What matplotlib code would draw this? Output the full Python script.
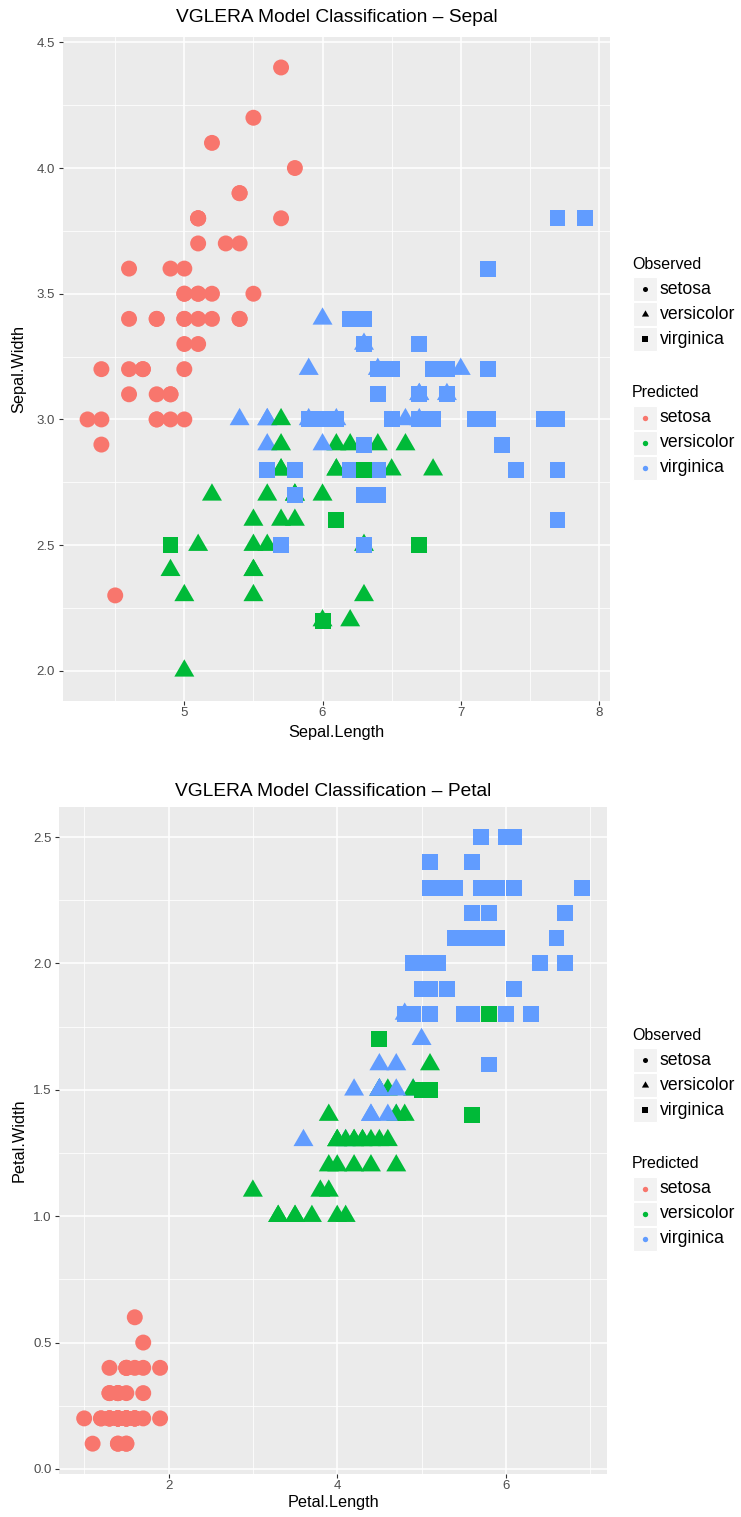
import matplotlib
matplotlib.use('Agg')
import matplotlib.pyplot as plt
from matplotlib.patches import Rectangle
import numpy as np

plt.rcParams['font.family'] = ['Liberation Sans', 'DejaVu Sans']

# iris measurements, in data order: setosa, versicolor, virginica
sepal_length = np.array([
    5.1, 4.9, 4.7, 4.6, 5.0, 5.4, 4.6, 5.0, 4.4, 4.9, 5.4, 4.8, 4.8, 4.3, 5.8, 5.7, 5.4, 5.1, 5.7, 5.1,
    5.4, 5.1, 4.6, 5.1, 4.8, 5.0, 5.0, 5.2, 5.2, 4.7, 4.8, 5.4, 5.2, 5.5, 4.9, 5.0, 5.5, 4.9, 4.4, 5.1,
    5.0, 4.5, 4.4, 5.0, 5.1, 4.8, 5.1, 4.6, 5.3, 5.0,
    7.0, 6.4, 6.9, 5.5, 6.5, 5.7, 6.3, 4.9, 6.6, 5.2, 5.0, 5.9, 6.0, 6.1, 5.6, 6.7, 5.6, 5.8, 6.2, 5.6,
    5.9, 6.1, 6.3, 6.1, 6.4, 6.6, 6.8, 6.7, 6.0, 5.7, 5.5, 5.5, 5.8, 6.0, 5.4, 6.0, 6.7, 6.3, 5.6, 5.5,
    5.5, 6.1, 5.8, 5.0, 5.6, 5.7, 5.7, 6.2, 5.1, 5.7,
    6.3, 5.8, 7.1, 6.3, 6.5, 7.6, 4.9, 7.3, 6.7, 7.2, 6.5, 6.4, 6.8, 5.7, 5.8, 6.4, 6.5, 7.7, 7.7, 6.0,
    6.9, 5.6, 7.7, 6.3, 6.7, 7.2, 6.2, 6.1, 6.4, 7.2, 7.4, 7.9, 6.4, 6.3, 6.1, 7.7, 6.3, 6.4, 6.0, 6.9,
    6.7, 6.9, 5.8, 6.8, 6.7, 6.7, 6.3, 6.5, 6.2, 5.9])
sepal_width = np.array([
    3.5, 3.0, 3.2, 3.1, 3.6, 3.9, 3.4, 3.4, 2.9, 3.1, 3.7, 3.4, 3.0, 3.0, 4.0, 4.4, 3.9, 3.5, 3.8, 3.8,
    3.4, 3.7, 3.6, 3.3, 3.4, 3.0, 3.4, 3.5, 3.4, 3.2, 3.1, 3.4, 4.1, 4.2, 3.1, 3.2, 3.5, 3.6, 3.0, 3.4,
    3.5, 2.3, 3.2, 3.5, 3.8, 3.0, 3.8, 3.2, 3.7, 3.3,
    3.2, 3.2, 3.1, 2.3, 2.8, 2.8, 3.3, 2.4, 2.9, 2.7, 2.0, 3.0, 2.2, 2.9, 2.9, 3.1, 3.0, 2.7, 2.2, 2.5,
    3.2, 2.8, 2.5, 2.8, 2.9, 3.0, 2.8, 3.0, 2.9, 2.6, 2.4, 2.4, 2.7, 2.7, 3.0, 3.4, 3.1, 2.3, 3.0, 2.5,
    2.6, 3.0, 2.6, 2.3, 2.7, 3.0, 2.9, 2.9, 2.5, 2.8,
    3.3, 2.7, 3.0, 2.9, 3.0, 3.0, 2.5, 2.9, 2.5, 3.6, 3.2, 2.7, 3.0, 2.5, 2.8, 3.2, 3.0, 3.8, 2.6, 2.2,
    3.2, 2.8, 2.8, 2.7, 3.3, 3.2, 2.8, 3.0, 2.8, 3.0, 2.8, 3.8, 2.8, 2.8, 2.6, 3.0, 3.4, 3.1, 3.0, 3.1,
    3.1, 3.1, 2.7, 3.2, 3.3, 3.0, 2.5, 3.0, 3.4, 3.0])
petal_length = np.array([
    1.4, 1.4, 1.3, 1.5, 1.4, 1.7, 1.4, 1.5, 1.4, 1.5, 1.5, 1.6, 1.4, 1.1, 1.2, 1.5, 1.3, 1.4, 1.7, 1.5,
    1.7, 1.5, 1.0, 1.7, 1.9, 1.6, 1.6, 1.5, 1.4, 1.6, 1.6, 1.5, 1.5, 1.4, 1.5, 1.2, 1.3, 1.4, 1.3, 1.5,
    1.3, 1.3, 1.3, 1.6, 1.9, 1.4, 1.6, 1.4, 1.5, 1.4,
    4.7, 4.5, 4.9, 4.0, 4.6, 4.5, 4.7, 3.3, 4.6, 3.9, 3.5, 4.2, 4.0, 4.7, 3.6, 4.4, 4.5, 4.1, 4.5, 3.9,
    4.8, 4.0, 4.9, 4.7, 4.3, 4.4, 4.8, 5.0, 4.5, 3.5, 3.8, 3.7, 3.9, 5.1, 4.5, 4.5, 4.7, 4.4, 4.1, 4.0,
    4.4, 4.6, 4.0, 3.3, 4.2, 4.2, 4.2, 4.3, 3.0, 4.1,
    6.0, 5.1, 5.9, 5.6, 5.8, 6.6, 4.5, 6.3, 5.8, 6.1, 5.1, 5.3, 5.5, 5.0, 5.1, 5.3, 5.5, 6.7, 6.9, 5.0,
    5.7, 4.9, 6.7, 4.9, 5.7, 6.0, 4.8, 4.9, 5.6, 5.8, 6.1, 6.4, 5.6, 5.1, 5.6, 6.1, 5.6, 5.5, 4.8, 5.4,
    5.6, 5.1, 5.1, 5.9, 5.7, 5.2, 5.0, 5.2, 5.4, 5.1])
petal_width = np.array([
    0.2, 0.2, 0.2, 0.2, 0.2, 0.4, 0.3, 0.2, 0.2, 0.1, 0.2, 0.2, 0.1, 0.1, 0.2, 0.4, 0.4, 0.3, 0.3, 0.3,
    0.2, 0.4, 0.2, 0.5, 0.2, 0.2, 0.4, 0.2, 0.2, 0.2, 0.2, 0.4, 0.1, 0.2, 0.2, 0.2, 0.2, 0.1, 0.2, 0.2,
    0.3, 0.3, 0.2, 0.6, 0.4, 0.3, 0.2, 0.2, 0.2, 0.2,
    1.4, 1.5, 1.5, 1.3, 1.5, 1.3, 1.6, 1.0, 1.3, 1.4, 1.0, 1.5, 1.0, 1.4, 1.3, 1.4, 1.5, 1.0, 1.5, 1.1,
    1.8, 1.3, 1.5, 1.2, 1.3, 1.4, 1.4, 1.7, 1.5, 1.0, 1.1, 1.0, 1.2, 1.6, 1.5, 1.6, 1.5, 1.3, 1.3, 1.3,
    1.2, 1.4, 1.2, 1.0, 1.3, 1.2, 1.3, 1.3, 1.1, 1.3,
    2.5, 1.9, 2.1, 1.8, 2.2, 2.1, 1.7, 1.8, 1.8, 2.5, 2.0, 1.9, 2.1, 2.0, 2.4, 2.3, 1.8, 2.2, 2.3, 1.5,
    2.3, 2.0, 2.0, 1.8, 2.1, 1.8, 1.8, 1.8, 2.1, 1.6, 1.9, 2.0, 2.2, 1.5, 1.4, 2.3, 2.4, 1.8, 1.8, 2.1,
    2.4, 2.3, 1.9, 2.3, 2.5, 2.3, 1.9, 2.0, 2.3, 1.8])

species = ['setosa', 'versicolor', 'virginica']
observed = ['setosa'] * 50 + ['versicolor'] * 50 + ['virginica'] * 50

pred_setosa = ['setosa'] * 50
pred_versicolor = [
    'virginica', 'virginica', 'virginica', 'versicolor', 'versicolor',
    'versicolor', 'virginica', 'versicolor', 'versicolor', 'versicolor',
    'versicolor', 'virginica', 'versicolor', 'versicolor', 'virginica',
    'virginica', 'virginica', 'versicolor', 'versicolor', 'versicolor',
    'virginica', 'versicolor', 'versicolor', 'versicolor', 'versicolor',
    'virginica', 'versicolor', 'virginica', 'virginica', 'versicolor',
    'versicolor', 'versicolor', 'versicolor', 'versicolor', 'virginica',
    'virginica', 'virginica', 'versicolor', 'virginica', 'versicolor',
    'versicolor', 'virginica', 'versicolor', 'versicolor', 'versicolor',
    'versicolor', 'versicolor', 'versicolor', 'versicolor', 'versicolor']
pred_virginica = [
    'virginica', 'virginica', 'virginica', 'virginica', 'virginica',
    'virginica', 'versicolor', 'virginica', 'versicolor', 'virginica',
    'virginica', 'virginica', 'virginica', 'virginica', 'virginica',
    'virginica', 'virginica', 'virginica', 'virginica', 'versicolor',
    'virginica', 'virginica', 'virginica', 'virginica', 'virginica',
    'virginica', 'virginica', 'virginica', 'virginica', 'virginica',
    'virginica', 'virginica', 'virginica', 'versicolor', 'versicolor',
    'virginica', 'virginica', 'virginica', 'virginica', 'virginica',
    'virginica', 'virginica', 'virginica', 'virginica', 'virginica',
    'virginica', 'virginica', 'virginica', 'virginica', 'virginica']
predicted = pred_setosa + pred_versicolor + pred_virginica

colors = {'setosa': '#F8766D', 'versicolor': '#00BA38', 'virginica': '#619CFF'}

W, H = 741, 1517
fig = plt.figure(figsize=(W / 100, H / 100), dpi=100)

# equilateral triangle, centred on its centroid like R's pch 17
tri = [(0, 1), (-0.866, -0.5), (0.866, -0.5)]
markers = {'setosa': ('o', 132), 'versicolor': (tri, 276), 'virginica': ('s', 132)}


def rect(l, t, r, b):
    return [l / W, 1 - b / H, (r - l) / W, (b - t) / H]


def ptext(x, y, s, **kw):
    fig.text(x / W, 1 - y / H, s, **kw)


def panel(box, xs, ys, xticks, yticks, xminor, yminor, xlabels, ylabels):
    ax = fig.add_axes(box)
    ax.set_facecolor('#EBEBEB')
    for sp in ax.spines.values():
        sp.set_visible(False)
    for sp_name in species:
        idx = [i for i, o in enumerate(observed) if o == sp_name]
        mk, s = markers[sp_name]
        ax.scatter(xs[idx], ys[idx], c=[colors[predicted[i]] for i in idx],
                   marker=mk, s=s, linewidths=0, zorder=3)
    xr = xs.max() - xs.min()
    yr = ys.max() - ys.min()
    ax.set_xlim(xs.min() - 0.05 * xr, xs.max() + 0.05 * xr)
    ax.set_ylim(ys.min() - 0.05 * yr, ys.max() + 0.05 * yr)
    ax.set_xticks(xticks)
    ax.set_xticklabels(xlabels)
    ax.set_yticks(yticks)
    ax.set_yticklabels(ylabels)
    ax.set_xticks(xminor, minor=True)
    ax.set_yticks(yminor, minor=True)
    ax.set_axisbelow(True)
    ax.grid(which='major', color='white', lw=1.1)
    ax.grid(which='minor', color='white', lw=0.55)
    ax.tick_params(which='minor', length=0)
    ax.tick_params(which='major', length=2.9, width=0.8, color='#333333',
                   labelsize=9.5, labelcolor='#4D4D4D')
    ax.tick_params(axis='x', pad=1.6)
    ax.tick_params(axis='y', pad=2.6)
    return ax


# Sepal panel
panel(rect(62.7, 37.3, 610, 701), sepal_length, sepal_width,
      [5, 6, 7, 8], [2.0, 2.5, 3.0, 3.5, 4.0, 4.5],
      [4.5, 5.5, 6.5, 7.5], [2.25, 2.75, 3.25, 3.75, 4.25],
      ['5', '6', '7', '8'], ['2.0', '2.5', '3.0', '3.5', '4.0', '4.5'])
ptext(336.4, 17, 'VGLERA Model Classification \u2013 Sepal', ha='center', va='center', fontsize=13.8)
ptext(336.4, 733, 'Sepal.Length', ha='center', va='center', fontsize=11.7)
ptext(19, 369, 'Sepal.Width', ha='center', va='center', rotation=90, fontsize=11.7)

# Petal panel
panel(rect(59.3, 806.7, 606.7, 1474), petal_length, petal_width,
      [2, 4, 6], [0.0, 0.5, 1.0, 1.5, 2.0, 2.5],
      [1, 3, 5, 7], [0.25, 0.75, 1.25, 1.75, 2.25],
      ['2', '4', '6'], ['0.0', '0.5', '1.0', '1.5', '2.0', '2.5'])
ptext(333, 791, 'VGLERA Model Classification \u2013 Petal', ha='center', va='center', fontsize=13.8)
ptext(333, 1503, 'Petal.Length', ha='center', va='center', fontsize=11.7)
ptext(19, 1140, 'Petal.Width', ha='center', va='center', rotation=90, fontsize=11.7)

# legends, drawn on a full-figure overlay in pixel units
lax = fig.add_axes([0, 0, 1, 1], zorder=5)
lax.set_xlim(0, W)
lax.set_ylim(H, 0)
lax.axis('off')

key_markers = {'setosa': ('o', 13), 'versicolor': (tri, 36), 'virginica': ('s', 15)}


def legend(cy):
    ptext(632, cy - 105, 'Observed', ha='left', va='center', fontsize=11.5)
    for k, sp_name in enumerate(species):
        y = cy - 80 + 25 * k
        lax.add_patch(Rectangle((633, y - 12), 24, 24, facecolor='#F2F2F2', edgecolor='white', lw=0.8))
        mk, s = key_markers[sp_name]
        lax.scatter([645], [y], marker=mk, s=s, c='black', linewidths=0, zorder=3)
        ptext(660, y, sp_name, ha='left', va='center', fontsize=12.7)
    ptext(632, cy + 23.5, 'Predicted', ha='left', va='center', fontsize=11.5)
    for k, sp_name in enumerate(species):
        y = cy + 48.5 + 25 * k
        lax.add_patch(Rectangle((633, y - 12), 24, 24, facecolor='#F2F2F2', edgecolor='white', lw=0.8))
        lax.scatter([645], [y], marker='o', s=15, c=colors[sp_name], linewidths=0, zorder=3)
        ptext(660, y, sp_name, ha='left', va='center', fontsize=12.7)


legend(369.15)
legend(1140.35)

fig.savefig('out.png', dpi=100)
